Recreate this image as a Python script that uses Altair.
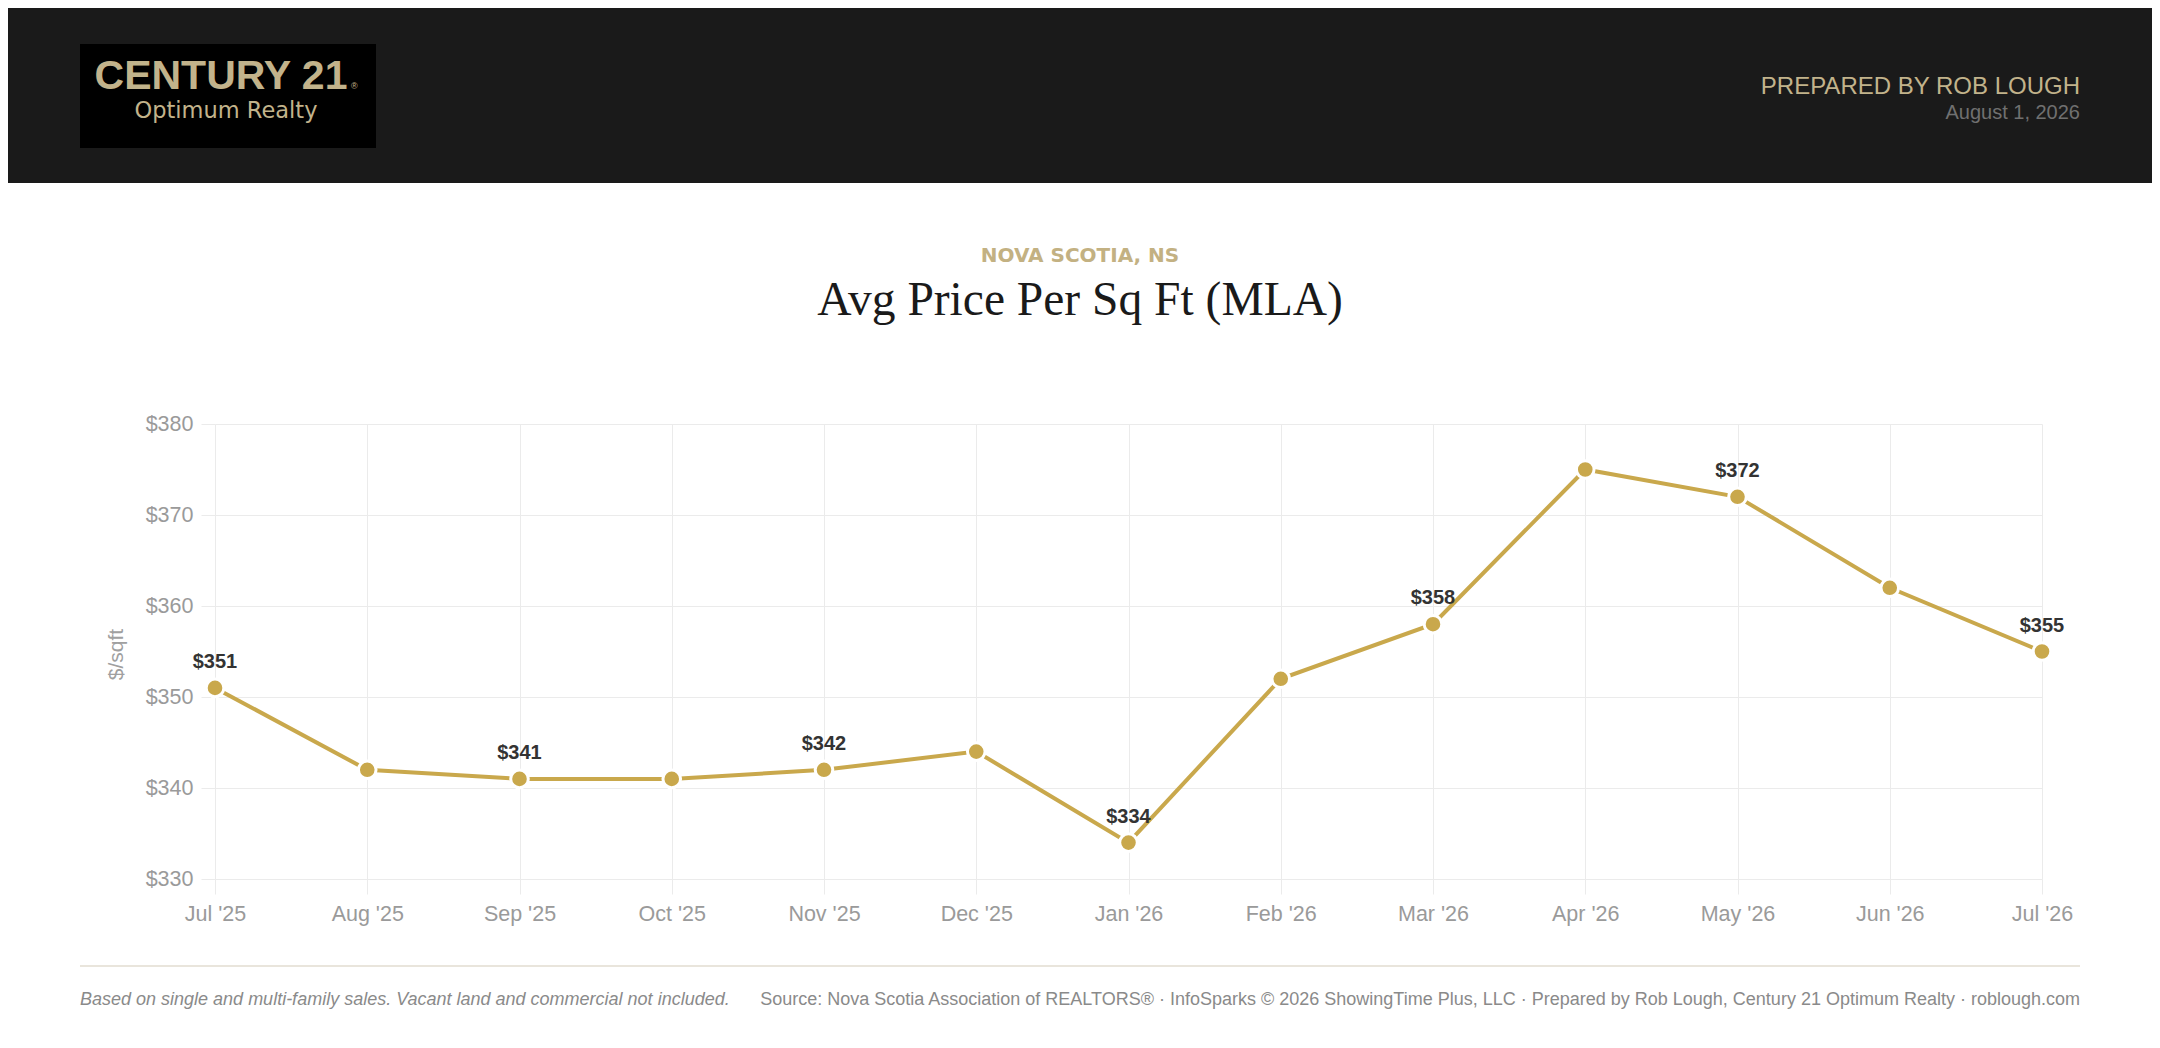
import altair as alt
import pandas as pd

# monthly avg price per sq ft, Nova Scotia
months = ["Jul '25", "Aug '25", "Sep '25", "Oct '25", "Nov '25", "Dec '25",
          "Jan '26", "Feb '26", "Mar '26", "Apr '26", "May '26", "Jun '26", "Jul '26"]
price = [351, 342, 341, 341, 342, 344, 334, 352, 358, 375, 372, 362, 355]
labelled = months[::2]
y_ticks = [330, 340, 350, 360, 370, 380]

GOLD = "#c9a84c"
BEIGE = "#c2b38b"
GRID = "#ebebeb"
SANS = "Liberation Sans"

df = pd.DataFrame({"month": months, "price": price})
one = pd.DataFrame({"k": [0]})

x = alt.X("month:N", sort=months, scale=alt.Scale(type="point", padding=0),
          axis=alt.Axis(title=None, labelAngle=0, labelFontSize=21.5, labelColor="#9a9a9a",
                        labelFont=SANS, tickSize=15, tickColor=GRID, labelPadding=9,
                        grid=True, gridColor=GRID, domain=False))
y = alt.Y("price:Q", scale=alt.Scale(domain=[330, 380], nice=False, zero=False),
          axis=alt.Axis(values=y_ticks, labelExpr="'$' + datum.value", title="$/sqft",
                        titleFont=SANS, titleFontSize=21, titleFontWeight="normal",
                        titleColor="#a0a0a0", titleX=-99, titleY=230, titleAlign="center",
                        titleBaseline="middle", labelFontSize=21.5, labelColor="#9a9a9a",
                        labelFont=SANS, tickSize=14, tickColor=GRID, labelPadding=8,
                        grid=True, gridColor=GRID, domain=False))

base = alt.Chart(df)
line = base.mark_line(color=GOLD, strokeWidth=4).encode(x=x, y=y)
dots = base.mark_circle(fill=GOLD, stroke="white", strokeWidth=3, size=310, opacity=1).encode(x=x, y=y)
labels = base.transform_filter(alt.FieldOneOfPredicate(field="month", oneOf=labelled)).mark_text(
    font=SANS, fontSize=20, fontWeight="bold", color="#333333", baseline="alphabetic", dy=-20
).encode(x=x, y=y, text=alt.Text("price:Q", format="$d"))

deco = alt.Chart(one)
header = deco.mark_rect(color="#1a1a1a").encode(
    x=alt.value(-207), x2=alt.value(1937), y=alt.value(-416), y2=alt.value(-241))
logo_box = deco.mark_rect(color="#000000").encode(
    x=alt.value(-135), x2=alt.value(161), y=alt.value(-380), y2=alt.value(-276))
logo1 = deco.mark_text(text="CENTURY 21", font=SANS, fontSize=41, fontWeight="bold",
                       color=BEIGE, align="center", baseline="alphabetic").encode(
    x=alt.value(6), y=alt.value(-335))
logo_r = deco.mark_text(text="\u00ae", font=SANS, fontSize=9, color=BEIGE,
                        align="left", baseline="alphabetic").encode(
    x=alt.value(136), y=alt.value(-335))
logo2 = deco.mark_text(text="Optimum Realty", font="DejaVu Sans", fontSize=22.5,
                       color=BEIGE, align="center", baseline="alphabetic").encode(
    x=alt.value(11), y=alt.value(-306))
prep = deco.mark_text(text="PREPARED BY ROB LOUGH", font=SANS, fontSize=24, color=BEIGE,
                      align="right", baseline="alphabetic").encode(
    x=alt.value(1865), y=alt.value(-330))
date = deco.mark_text(text="August 1, 2026", font=SANS, fontSize=20, color="#707070",
                      align="right", baseline="alphabetic").encode(
    x=alt.value(1865), y=alt.value(-305))
region = deco.mark_text(text="NOVA SCOTIA, NS", font="DejaVu Sans", fontSize=20,
                        fontWeight="bold", color="#c3b182", align="center",
                        baseline="alphabetic").encode(x=alt.value(865), y=alt.value(-162))
title = deco.mark_text(text="Avg Price Per Sq Ft (MLA)", font="Liberation Serif", fontSize=47.5,
                       color="#1a1a1a", align="center", baseline="alphabetic").encode(
    x=alt.value(865), y=alt.value(-109))
foot_rule = deco.mark_rule(color="#e9e5dc", strokeWidth=2).encode(
    x=alt.value(-135), x2=alt.value(1865), y=alt.value(542))
foot_left = deco.mark_text(
    text="Based on single and multi-family sales. Vacant land and commercial not included.",
    font=SANS, fontSize=18, fontStyle="italic", color="#8a8a8a", align="left",
    baseline="alphabetic").encode(x=alt.value(-135), y=alt.value(581))
foot_right = deco.mark_text(
    text="Source: Nova Scotia Association of REALTORS\u00ae \u00b7 InfoSparks \u00a9 2026 ShowingTime Plus, LLC \u00b7 Prepared by Rob Lough, Century 21 Optimum Realty \u00b7 roblough.com",
    font=SANS, fontSize=18, color="#8a8a8a", align="right",
    baseline="alphabetic").encode(x=alt.value(1865), y=alt.value(581))

chart = alt.layer(
    header, logo_box, logo1, logo_r, logo2, prep, date, region, title,
    line, dots, labels, foot_rule, foot_left, foot_right
).properties(
    width=1827, height=455,
    padding={"left": 207, "top": 416, "right": 110, "bottom": 160},
    autosize=alt.AutoSizeParams(type="none"),
    background="white"
).configure_view(strokeWidth=0)

chart.save("out.html", embed_options={"renderer": "svg", "actions": False})
